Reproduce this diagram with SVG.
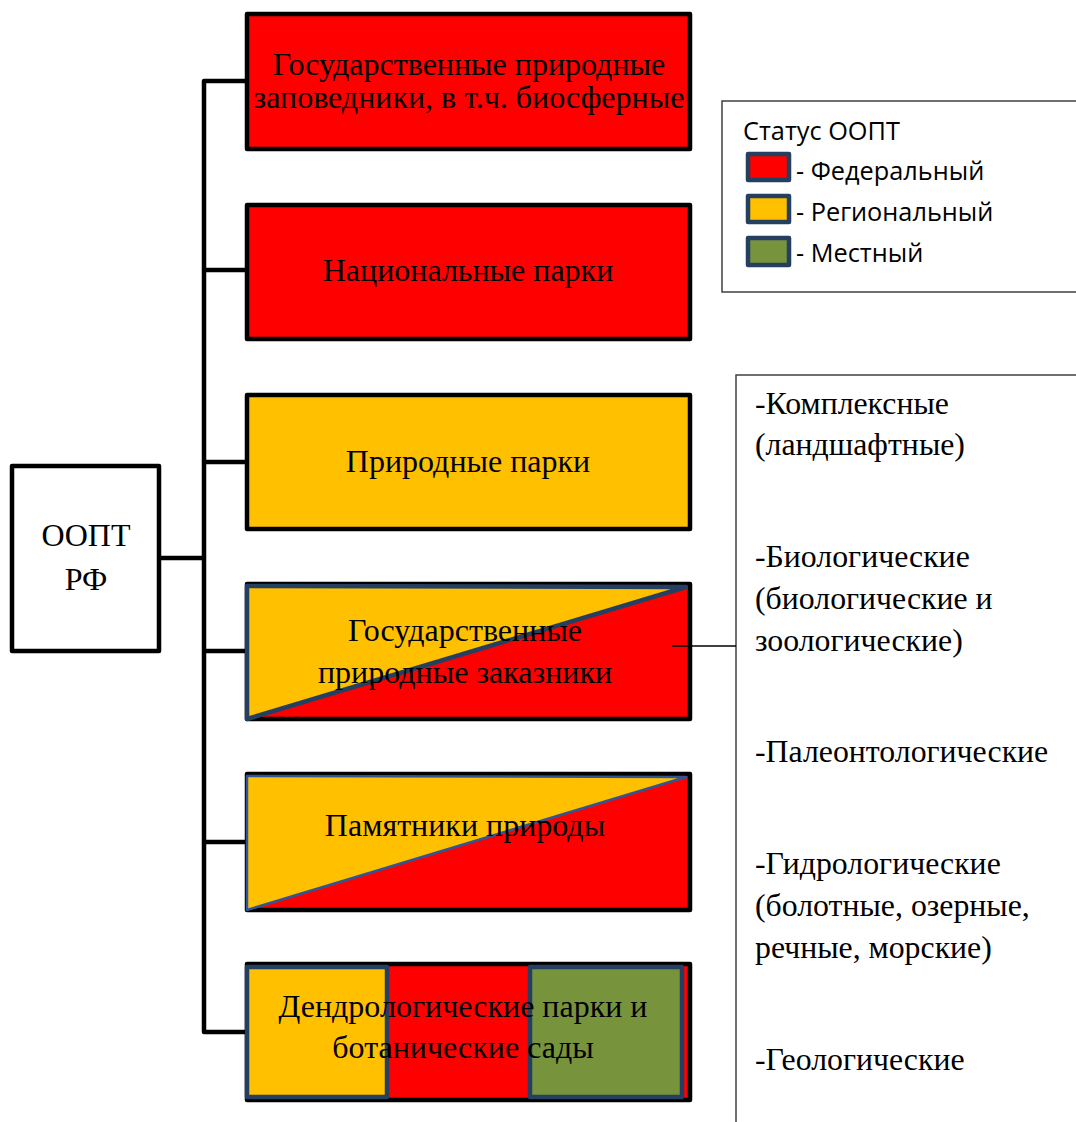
<svg xmlns="http://www.w3.org/2000/svg" width="1076" height="1122" viewBox="0 0 1076 1122">
<style>
.box{stroke:#000;stroke-width:4.5;stroke-linejoin:round}
.red{fill:#FF0000}
.yel{fill:#FFC000}
.grn{fill:#77933C}
.nav{stroke:#243F60;stroke-width:4.5;stroke-linejoin:round}
.t{font-family:"Liberation Serif","Times New Roman",serif;font-size:32px;fill:#000;text-anchor:middle}
.lt{font-family:"Liberation Serif","Times New Roman",serif;font-size:31.8px;fill:#000}
.lg{font-family:"Open Sans","Liberation Sans",sans-serif;font-size:25.3px;fill:#000}
.bus{stroke:#000;stroke-width:4.5;fill:none;stroke-linejoin:round}
</style>
<rect width="1076" height="1122" fill="#fff"/>
<g id="root">
<rect x="12" y="466" width="147" height="185" fill="#fff" class="box"/>
<text class="t" x="86" y="546">ООПТ</text>
<text class="t" x="86" y="590">РФ</text>
</g>
<g id="zapovedniki">
<rect x="247" y="14" width="443" height="135" class="box red"/>
<text class="t" x="469" y="75">Государственные природные</text>
<text class="t" x="469" y="108">заповедники, в т.ч. биосферные</text>
</g>
<g id="nacparki">
<rect x="247" y="205" width="443" height="134" class="box red"/>
<text class="t" x="468" y="281">Национальные парки</text>
</g>
<g id="prirparki">
<rect x="247" y="395" width="443" height="134" class="box yel"/>
<text class="t" x="468" y="472">Природные парки</text>
</g>
<g id="zakazniki">
<rect x="247" y="584" width="443" height="135" class="box red"/>
<polygon points="247,586 686,587 247,719" class="yel nav"/>
<text class="t" x="465" y="641">Государственные</text>
<text class="t" x="465" y="683">природные заказники</text>
</g>
<g id="pamyatniki">
<rect x="247" y="774" width="443" height="136" class="box red"/>
<polygon points="247,776 686,777 247,910" class="yel" stroke="#2F5597" stroke-width="2.5" stroke-linejoin="round"/>
<text class="t" x="465" y="836">Памятники природы</text>
</g>
<g id="dendroparki">
<rect x="247" y="964" width="443" height="136" class="box red"/>
<rect x="247" y="967" width="140" height="130" class="yel nav"/>
<rect x="530" y="967" width="152" height="130" class="grn nav"/>
<text class="t" x="463" y="1017">Дендрологические парки и</text>
<text class="t" x="463" y="1058">ботанические сады</text>
</g>
<g id="legend">
<rect x="722" y="101" width="360" height="191" fill="#fff" stroke="#404040" stroke-width="1.5"/>
<text class="lg" x="743" y="140">Статус ООПТ</text>
<rect x="748" y="154" width="41" height="26" class="red nav"/>
<text class="lg" x="796" y="180">- Федеральный</text>
<rect x="748" y="196" width="41" height="26" class="yel nav"/>
<text class="lg" x="796" y="221">- Региональный</text>
<rect x="748" y="238" width="41" height="27" class="grn nav"/>
<text class="lg" x="796" y="262">- Местный</text>
</g>
<g id="types">
<rect x="736" y="375" width="350" height="760" fill="#fff" stroke="#404040" stroke-width="1.5"/>
<text class="lt" x="755" y="414">-Комплексные</text>
<text class="lt" x="755" y="455">(ландшафтные)</text>
<text class="lt" x="755" y="567">-Биологические</text>
<text class="lt" x="755" y="609">(биологические и</text>
<text class="lt" x="755" y="651">зоологические)</text>
<text class="lt" x="755" y="762">-Палеонтологические</text>
<text class="lt" x="755" y="874">-Гидрологические</text>
<text class="lt" x="755" y="916">(болотные, озерные,</text>
<text class="lt" x="755" y="958">речные, морские)</text>
<text class="lt" x="755" y="1070">-Геологические</text>
</g>
<g id="connectors">
<path class="bus" d="M245,81 H204 V1032 H245"/>
<path class="bus" d="M161,558 H204"/>
<path class="bus" d="M204,270 H245 M204,462 H245 M204,651 H245 M204,842 H245"/>
<line x1="672" y1="646" x2="736" y2="646" stroke="#000" stroke-width="1.5"/>
</g>
</svg>
